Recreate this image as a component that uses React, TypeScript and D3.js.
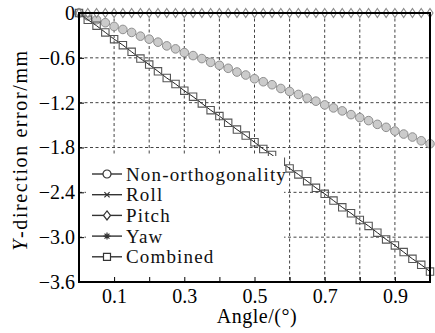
import React, { useEffect, useRef } from 'react'
import * as d3 from 'd3'

// angle step is 0.025 deg, 41 samples
const angles = [
  0, 0.025, 0.05, 0.075, 0.1, 0.125, 0.15, 0.175, 0.2, 0.225,
  0.25, 0.275, 0.3, 0.325, 0.35, 0.375, 0.4, 0.425, 0.45, 0.475,
  0.5, 0.525, 0.55, 0.575, 0.6, 0.625, 0.65, 0.675, 0.7, 0.725,
  0.75, 0.775, 0.8, 0.825, 0.85, 0.875, 0.9, 0.925, 0.95, 0.975, 1,
]

const nonOrthogonality = [
  0, -0.04, -0.09, -0.13, -0.18, -0.22, -0.26, -0.31, -0.35, -0.39,
  -0.44, -0.48, -0.53, -0.57, -0.61, -0.66, -0.7, -0.74, -0.79, -0.83,
  -0.88, -0.92, -0.96, -1.01, -1.05, -1.09, -1.14, -1.18, -1.23, -1.27,
  -1.31, -1.36, -1.4, -1.44, -1.49, -1.53, -1.58, -1.62, -1.66, -1.71, -1.75,
]

const roll = [
  0, 0, 0, 0, 0, 0, 0, 0, 0, 0, 0, 0, 0, 0, 0, 0, 0, 0, 0, 0, 0,
  0, 0, 0, 0, 0, 0, 0, 0, 0, 0, 0, 0, 0, 0, 0, 0, 0, 0, 0, 0,
]

const pitch = [
  0, 0, 0, 0, 0, 0, 0, 0, 0, 0, 0, 0, 0, 0, 0, 0, 0, 0, 0, 0, 0,
  0, 0, 0, 0, 0, 0, 0, 0, 0, 0, 0, 0, 0, 0, 0, 0, 0, 0, 0, 0,
]

const yaw = [
  0, 0, 0, 0, 0, 0, 0, 0, 0, 0, 0, 0, 0, 0, 0, 0, 0, 0, 0, 0, 0,
  0, 0, 0, 0, 0, 0, 0, 0, 0, 0, 0, 0, 0, 0, 0, 0, 0, 0, 0, 0,
]

const combined = [
  0, -0.09, -0.17, -0.26, -0.35, -0.43, -0.52, -0.61, -0.69, -0.78,
  -0.87, -0.95, -1.04, -1.12, -1.21, -1.3, -1.38, -1.47, -1.56, -1.64,
  -1.73, -1.82, -1.9, -1.99, -2.08, -2.16, -2.25, -2.34, -2.42, -2.51,
  -2.6, -2.68, -2.77, -2.85, -2.94, -3.03, -3.11, -3.2, -3.29, -3.37, -3.46,
]

const legendLabels = ['Non-orthogonality', 'Roll', 'Pitch', 'Yaw', 'Combined']
const xTicks = [0.1, 0.2, 0.3, 0.4, 0.5, 0.6, 0.7, 0.8, 0.9]
const xLabelTicks = [0.1, 0.3, 0.5, 0.7, 0.9]
const yTicks = [0, -0.6, -1.2, -1.8, -2.4, -3.0, -3.6]

const FONT = "'Times New Roman', Times, 'Liberation Serif', 'DejaVu Serif', serif"

// marker shapes
const circlePath = (r) => `M${-r},0A${r},${r} 0 1,0 ${r},0A${r},${r} 0 1,0 ${-r},0Z`
const diamondPath = (w, h) => `M0,${-h}L${w},0L0,${h}L${-w},0Z`
const squarePath = (s) => `M${-s},${-s}H${s}V${s}H${-s}Z`
const timesPath = (s) => `M${-s},${-s}L${s},${s}M${-s},${s}L${s},${-s}`
const starPath = (s) => `M0,${-s}V${s}M${-s},0H${s}M${-s * 0.7},${-s * 0.7}L${s * 0.7},${s * 0.7}M${-s * 0.7},${s * 0.7}L${s * 0.7},${-s * 0.7}`

export default function App() {
  const ref = useRef(null)

  useEffect(() => {
    const svg = d3.select(ref.current)
    svg.selectAll('*').remove()

    const margin = { top: 13, right: 5, bottom: 51, left: 79 }
    const width = 435 - margin.left - margin.right
    const height = 333 - margin.top - margin.bottom

    const x = d3.scaleLinear().domain([0, 1]).range([margin.left, margin.left + width])
    const y = d3.scaleLinear().domain([0, -3.6]).range([margin.top, margin.top + height])

    // grid
    const grid = svg.append('g')
    grid.selectAll('line.v')
      .data(xTicks)
      .enter()
      .append('line')
      .attr('x1', d => x(d)).attr('x2', d => x(d))
      .attr('y1', y(0)).attr('y2', y(-3.6))
      .attr('stroke', '#444').attr('stroke-width', 1).attr('stroke-dasharray', '3,2.5')
    grid.selectAll('line.h')
      .data(yTicks.slice(1, -1))
      .enter()
      .append('line')
      .attr('x1', x(0)).attr('x2', x(1))
      .attr('y1', d => y(d)).attr('y2', d => y(d))
      .attr('stroke', '#444').attr('stroke-width', 1).attr('stroke-dasharray', '3,2.5')

    const line = d3.line().x(d => x(d[0])).y(d => y(d[1]))
    const pts = vals => angles.map((a, i) => [a, vals[i]])

    // Non-orthogonality
    svg.append('path').attr('d', line(pts(nonOrthogonality)))
      .attr('fill', 'none').attr('stroke', '#999').attr('stroke-width', 1)
    svg.append('g').selectAll('path')
      .data(pts(nonOrthogonality))
      .enter()
      .append('path')
      .attr('transform', d => `translate(${x(d[0])},${y(d[1])})`)
      .attr('d', circlePath(4.3))
      .attr('fill', '#cbcbcb').attr('stroke', '#8e8e8e').attr('stroke-width', 1)

    // Combined
    svg.append('path').attr('d', line(pts(combined)))
      .attr('fill', 'none').attr('stroke', '#222').attr('stroke-width', 1)
    svg.append('g').selectAll('path')
      .data(pts(combined))
      .enter()
      .append('path')
      .attr('transform', d => `translate(${x(d[0])},${y(d[1])})`)
      .attr('d', squarePath(3.7))
      .attr('fill', 'none').attr('stroke', '#555').attr('stroke-width', 1.1)

    // Roll, Yaw, Pitch (all zero)
    ;[roll, yaw, pitch].forEach(vals => {
      svg.append('path').attr('d', line(pts(vals)))
        .attr('fill', 'none').attr('stroke', '#000').attr('stroke-width', 1.2)
    })
    svg.append('g').selectAll('path')
      .data(pts(pitch))
      .enter()
      .append('path')
      .attr('transform', d => `translate(${x(d[0])},${y(d[1])})`)
      .attr('d', diamondPath(3, 4.5))
      .attr('fill', '#fff').attr('stroke', '#888').attr('stroke-width', 1.1)

    // legend
    const lg = svg.append('g')
    lg.append('rect')
      .attr('x', 86).attr('y', 156).attr('width', 198).attr('height', 125)
      .attr('fill', '#fff')
    const markers = [
      { d: circlePath(4), fill: '#fff' },
      { d: timesPath(2.6), fill: 'none' },
      { d: diamondPath(3.5, 4.5), fill: '#fff' },
      { d: starPath(3.5), fill: 'none' },
      { d: squarePath(3.5), fill: '#fff' },
    ]
    legendLabels.forEach((label, i) => {
      const cy = 174 + i * 20.7
      lg.append('line')
        .attr('x1', 92).attr('x2', 122).attr('y1', cy).attr('y2', cy)
        .attr('stroke', '#333').attr('stroke-width', 1.4)
      lg.append('path')
        .attr('transform', `translate(107,${cy})`)
        .attr('d', markers[i].d)
        .attr('fill', markers[i].fill).attr('stroke', '#333').attr('stroke-width', 1.2)
      lg.append('text')
        .attr('x', 126).attr('y', cy)
        .attr('dy', '0.35em')
        .attr('font-family', FONT).attr('font-size', 19).attr('letter-spacing', 1.15)
        .attr('fill', '#111')
        .text(label)
    })

    // frame
    svg.append('rect')
      .attr('x', margin.left).attr('y', margin.top).attr('width', width).attr('height', height)
      .attr('fill', 'none').attr('stroke', '#000').attr('stroke-width', 2)

    // axes
    const xAxis = svg.append('g')
      .attr('transform', `translate(0,${margin.top + height})`)
      .call(d3.axisBottom(x)
        .tickValues(xTicks)
        .tickSizeInner(-5).tickSizeOuter(0).tickPadding(7)
        .tickFormat(d => (xLabelTicks.includes(d) ? d3.format('.1f')(d) : '')))
    xAxis.attr('font-family', FONT).attr('font-size', 20)
    xAxis.select('.domain').remove()
    xAxis.selectAll('line').attr('stroke', '#000').attr('stroke-width', 1)
    xAxis.selectAll('text').attr('fill', '#000')

    const yAxis = svg.append('g')
      .attr('transform', `translate(${margin.left},0)`)
      .call(d3.axisLeft(y)
        .tickValues(yTicks)
        .tickSizeInner(-5).tickSizeOuter(0).tickPadding(4)
        .tickFormat(d => (d === 0 ? '0' : d3.format('.1f')(d))))
    yAxis.attr('font-family', FONT).attr('font-size', 20)
    yAxis.select('.domain').remove()
    yAxis.selectAll('line').attr('stroke', '#000').attr('stroke-width', 1)
    yAxis.selectAll('text').attr('fill', '#000')

    // axis titles
    svg.append('text')
      .attr('x', 257).attr('y', 323)
      .attr('text-anchor', 'middle')
      .attr('font-family', FONT).attr('font-size', 20).attr('letter-spacing', 0.5)
      .text('Angle/(°)')

    const yt = svg.append('text')
      .attr('transform', 'translate(27,150) rotate(-90)')
      .attr('text-anchor', 'middle')
      .attr('font-family', FONT).attr('font-size', 20).attr('letter-spacing', 1.6)
    yt.append('tspan').attr('font-style', 'italic').text('Y')
    yt.append('tspan').text('-direction error/mm')
  }, [])

  return (
    <svg ref={ref} width={435} height={333}
      style={{ position: 'absolute', left: 0, top: 0, background: '#fff' }} />
  )
}
